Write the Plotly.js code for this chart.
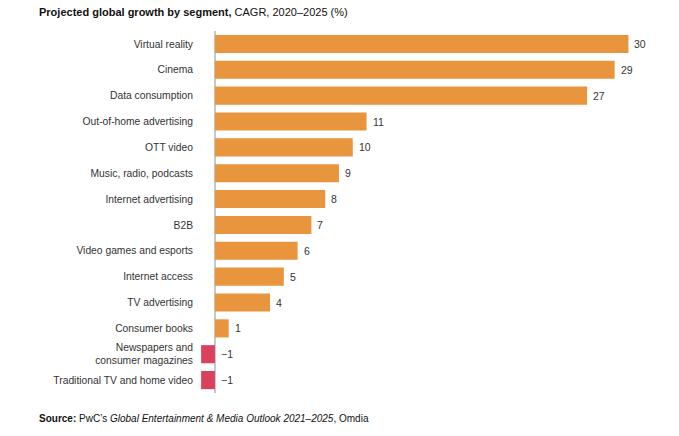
<!DOCTYPE html>
<html>
<head>
    <meta charset='utf-8'>
    <title>Projected global growth by segment</title>
    <script src="https://cdn.plot.ly/plotly-3.0.1.min.js"></script>
    <style>
        body { margin:0; background:#fff; }
        #chartDiv { width:679px; height:436px; }
    </style>
</head>
<body>
    <div id="chartDiv"></div>

    <script>
        const segments = [
            "Virtual reality", "Cinema", "Data consumption", "Out-of-home advertising",
            "OTT video", "Music, radio, podcasts", "Internet advertising", "B2B",
            "Video games and esports", "Internet access", "TV advertising", "Consumer books",
            "Newspapers and<br>consumer magazines", "Traditional TV and home video"
        ];
        const cagr = [30, 29, 27, 11, 10, 9, 8, 7, 6, 5, 4, 1, -1, -1];
        const valueLabels = ["30", "29", "27", "11", "10", "9", "8", "7", "6", "5", "4", "1", "\u22121", "\u22121"];

        const chartDiv = document.getElementById("chartDiv");
        const fontFam = "Liberation Sans, Arial, sans-serif";

        const barColors = cagr.map(v => v < 0 ? "#D9415C" : "#E8953E");

        const bars = {
            type : 'bar',
            orientation : 'h',
            x : cagr,
            y : segments,
            width : 0.7,
            marker : { color : barColors },
            hoverinfo : 'x+y',
        };

        // value labels sit right of the bar end (or right of zero for negatives)
        const valueNotes = cagr.map((v, i) => ({
            x : Math.max(v, 0),
            y : segments[i],
            text : valueLabels[i],
            showarrow : false,
            xanchor : 'left',
            xshift : 4,
            font : { family : fontFam, size : 10.5, color : '#333' },
        }));

        const layout = {
            width : 679,
            height : 436,
            margin : { l : 197, r : 23, t : 31, b : 43 },
            paper_bgcolor : '#fff',
            plot_bgcolor : '#fff',
            showlegend : false,
            bargap : 0.3,
            xaxis : {
                range : [-1.3, 32],
                showgrid : false,
                showticklabels : false,
                ticks : '',
                zeroline : true,
                zerolinecolor : '#c8c8c8',
                zerolinewidth : 1.5,
                fixedrange : true,
            },
            yaxis : {
                autorange : 'reversed',
                showgrid : false,
                zeroline : false,
                ticks : '',
                ticklabelstandoff : 3,
                tickfont : { family : fontFam, size : 10.3, color : '#333' },
                fixedrange : true,
            },
            annotations : valueNotes.concat([
                {
                    xref : 'paper', yref : 'paper',
                    x : -197/459 + 37/459, y : 1,
                    yshift : 19,
                    xanchor : 'left', yanchor : 'middle',
                    showarrow : false,
                    text : "<b>Projected global growth by segment,</b> CAGR, 2020\u20132025 (%)",
                    font : { family : fontFam, size : 11, color : '#111' },
                },
                {
                    xref : 'paper', yref : 'paper',
                    x : -197/459 + 37/459, y : 0,
                    yshift : -25,
                    xanchor : 'left', yanchor : 'middle',
                    showarrow : false,
                    text : "<b>Source:</b> PwC\u2019s <i>Global Entertainment &amp; Media Outlook 2021\u20132025</i>, Omdia",
                    font : { family : fontFam, size : 10, color : '#111' },
                },
            ]),
        };

        Plotly.newPlot(chartDiv, [bars], layout, { displayModeBar : false, staticPlot : true });
    </script>
</body>
</html>
